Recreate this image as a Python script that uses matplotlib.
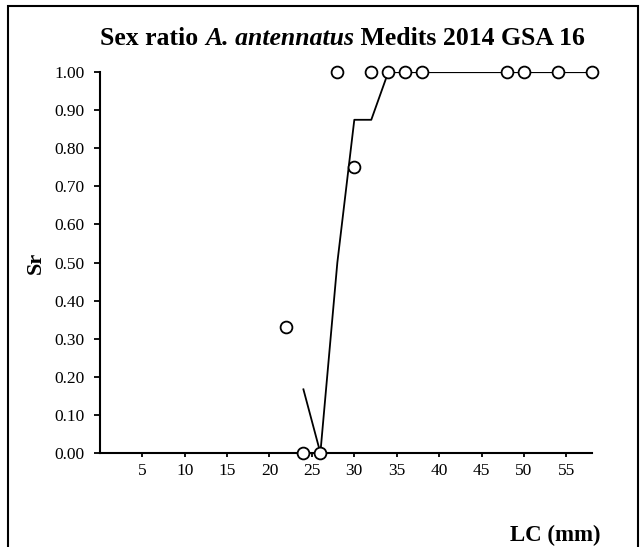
import matplotlib
matplotlib.use("Agg")
import matplotlib.pyplot as plt
from matplotlib.patches import Rectangle

# observed sex ratio by length class
lc_obs = [22, 24, 26, 28, 30, 32, 34, 36, 38, 48, 50, 54, 58]
sr_obs = [0.33, 0.0, 0.0, 1.0, 0.75, 1.0, 1.0, 1.0, 1.0, 1.0, 1.0, 1.0, 1.0]

# fitted / smoothed curve
lc_fit = [24, 26, 28, 30, 32, 34, 36, 38, 48, 50, 54, 58]
sr_fit = [0.167, 0.0, 0.5, 0.875, 0.875, 1.0, 1.0, 1.0, 1.0, 1.0, 1.0, 1.0]

xticks = [5, 10, 15, 20, 25, 30, 35, 40, 45, 50, 55]
yticks = [0.0, 0.1, 0.2, 0.3, 0.4, 0.5, 0.6, 0.7, 0.8, 0.9, 1.0]

# title in pieces: (text, style)
title_parts = [("Sex ratio ", "normal"), ("A. antennatus", "italic"),
               (" Medits 2014 GSA 16", "normal")]

plt.rcParams['font.family'] = ['Liberation Serif', 'DejaVu Serif']

fig = plt.figure(figsize=(6.44, 5.47), dpi=100)
ax = fig.add_axes([0.155, 0.172, 0.764, 0.696])

ax.plot(lc_fit, sr_fit, color='black', lw=1.3, zorder=2)
ax.plot(lc_obs, sr_obs, 'o', mfc='white', mec='black', mew=1.3, ms=8.5,
        linestyle='none', zorder=3, clip_on=False)

ax.set_xlim(0, 58)
ax.set_ylim(0, 1)
ax.set_xticks(xticks)
ax.set_yticks(yticks)
ax.set_yticklabels(['%.2f' % v for v in yticks])
ax.tick_params(axis='both', direction='out', width=1.3,
               labelsize=12.5, colors='black')
ax.tick_params(axis='y', length=4, pad=7)
ax.tick_params(axis='x', length=3, pad=4)
for s in ['top', 'right']:
    ax.spines[s].set_visible(False)
for s in ['left', 'bottom']:
    ax.spines[s].set_linewidth(1.5)

# title built from pieces so that the species name is italic
renderer = fig.canvas.get_renderer()
texts = []
widths = []
for txt, style in title_parts:
    t = fig.text(0, 0.93, txt, ha='left', va='center', fontsize=18.5,
                 fontweight='bold', fontstyle=style)
    texts.append(t)
    widths.append(t.get_window_extent(renderer).width)
total = sum(widths)
x0 = 0.532 * fig.bbox.width - total / 2
for t, w in zip(texts, widths):
    t.set_x(x0 / fig.bbox.width)
    x0 += w

fig.text(0.055, 0.52, 'Sr', rotation=90, ha='center', va='center',
         fontsize=16, fontweight='bold')
fig.text(0.932, 0.021, 'LC (mm)', ha='right', va='center',
         fontsize=16.5, fontweight='bold')

fig.patches.append(Rectangle((8 / 644, -0.05), 630 / 644, 1 - 6 / 547 + 0.05,
                             transform=fig.transFigure, fill=False,
                             edgecolor='black', lw=1.5))

fig.savefig('out.png', dpi=100)
